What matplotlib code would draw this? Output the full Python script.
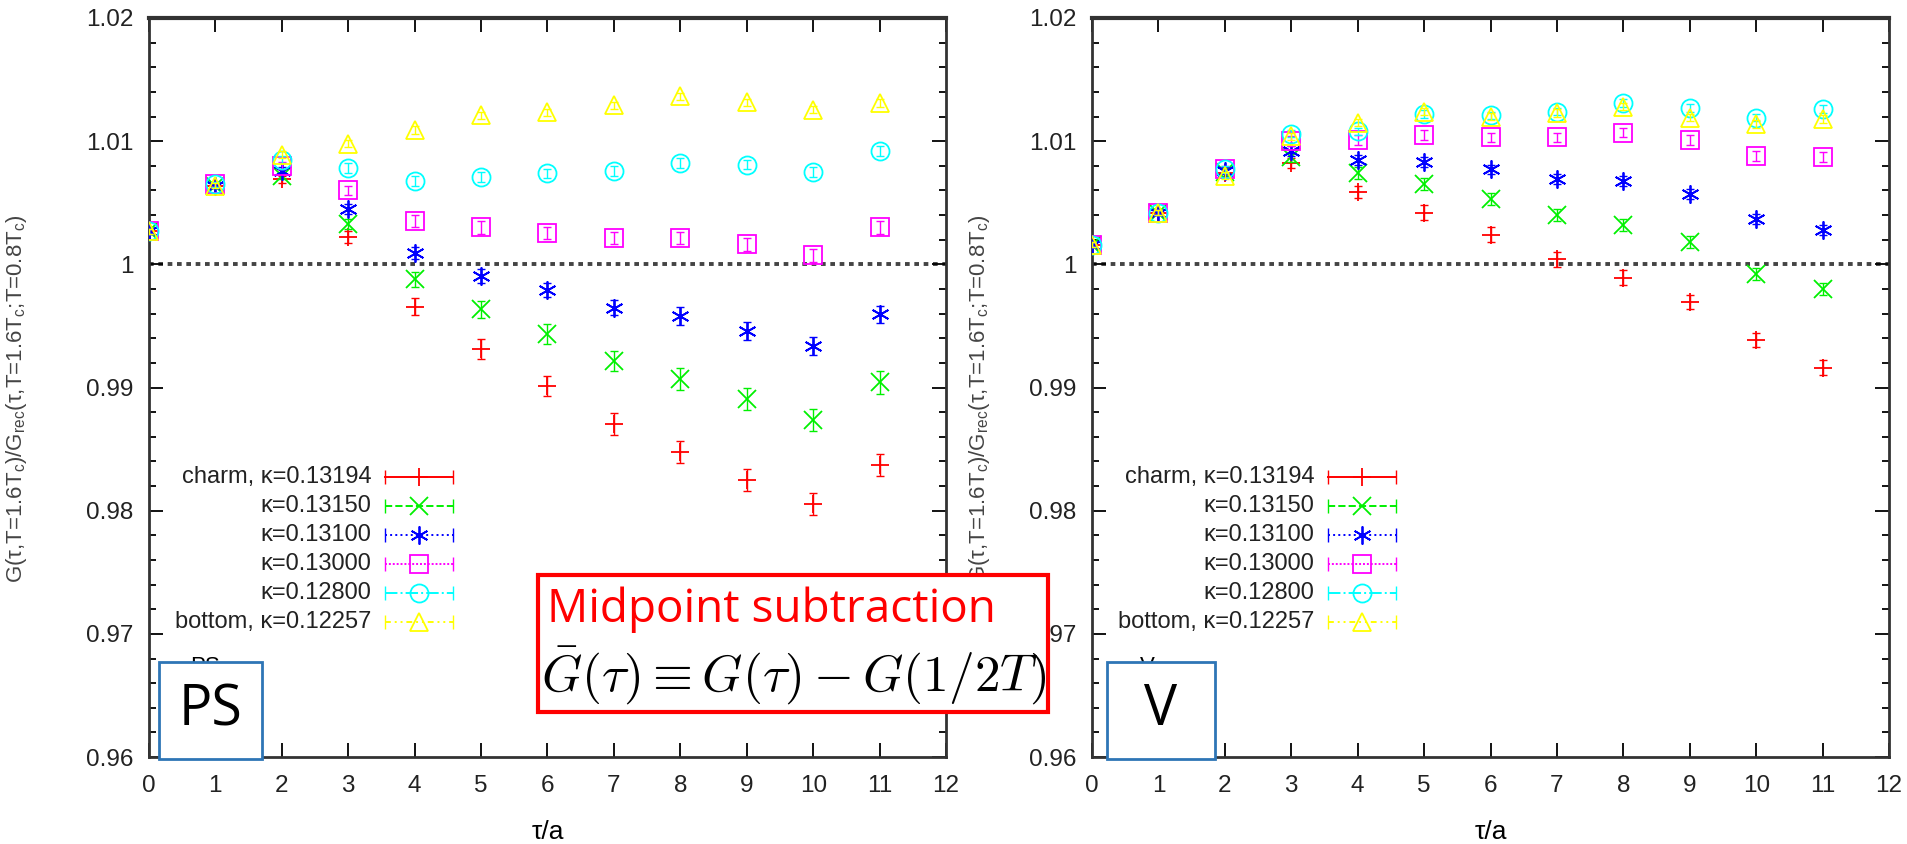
# PS / V correlator ratios, two panels with annotation boxes
import matplotlib
matplotlib.use('Agg')
import matplotlib.pyplot as plt
from matplotlib.lines import Line2D
from matplotlib.patches import Rectangle

tau = list(range(12))
labels = ['charm, κ=0.13194', 'κ=0.13150', 'κ=0.13100',
          'κ=0.13000', 'κ=0.12800', 'bottom, κ=0.12257']
colors = ['#ff0000', '#00f000', '#0000ff', '#ff00ff', '#00ffff', '#ffff00']
markers = ['+', 'x', (6, 2, 0), 's', 'o', '^']
styles = ['-', '--', ':', (0, (1, 1)), '-.', (0, (3, 2, 1, 2, 1, 2))]

# PS channel
ps_vals = [
    [1.0027, 1.0064, 1.0069, 1.0022, 0.99657, 0.9931, 0.99014, 0.98704, 0.98474, 0.98248, 0.98052, 0.98371],
    [1.0027, 1.0064, 1.0072, 1.0033, 0.9988, 0.99635, 0.99432, 0.99216, 0.99068, 0.98905, 0.98737, 0.99041],
    [1.0027, 1.0064, 1.0076, 1.0045, 1.0009, 0.99905, 0.99792, 0.99649, 0.99581, 0.99459, 0.99338, 0.99595],
    [1.0027, 1.0065, 1.0080, 1.0060, 1.0035, 1.0030, 1.00257, 1.00216, 1.00216, 1.00162, 1.00073, 1.0030],
    [1.0027, 1.0065, 1.0085, 1.0078, 1.0068, 1.0071, 1.00738, 1.00757, 1.00824, 1.0081, 1.00751, 1.00919],
    [1.0027, 1.0064, 1.0089, 1.0098, 1.0109, 1.0121, 1.01235, 1.0129, 1.01365, 1.01316, 1.01257, 1.0131],
]
ps_errs = [
    [0.0002, 0.0002, 0.0003, 0.0005, 0.0007, 0.0008, 0.0008, 0.0009, 0.0009, 0.0009, 0.0009, 0.0009],
    [0.0002, 0.0002, 0.0003, 0.0004, 0.0006, 0.0007, 0.0008, 0.0008, 0.0009, 0.0009, 0.0009, 0.0009],
    [0.0002, 0.0002, 0.0003, 0.0004, 0.0005, 0.0006, 0.0006, 0.0006, 0.0007, 0.0007, 0.0007, 0.0007],
    [0.0002, 0.0002, 0.0003, 0.0004, 0.0005, 0.0005, 0.0005, 0.0005, 0.0005, 0.0005, 0.0005, 0.0005],
    [0.0002, 0.0002, 0.0003, 0.0004, 0.0004, 0.0004, 0.0004, 0.0004, 0.0004, 0.0004, 0.0004, 0.0004],
    [0.0002, 0.0002, 0.0003, 0.0003, 0.0003, 0.0003, 0.0003, 0.0003, 0.0003, 0.0003, 0.0003, 0.0003],
]

# V channel
v_vals = [
    [1.0016, 1.0042, 1.0074, 1.0082, 1.0059, 1.0042, 1.0024, 1.0004, 0.9989, 0.99695, 0.99386, 0.99162],
    [1.0016, 1.0042, 1.0075, 1.0087, 1.0074, 1.0065, 1.0053, 1.0040, 1.0032, 1.0018, 0.9992, 0.9980],
    [1.0016, 1.0042, 1.0076, 1.0092, 1.0085, 1.0083, 1.0077, 1.0069, 1.0068, 1.0057, 1.0037, 1.0028],
    [1.0016, 1.0042, 1.0077, 1.0100, 1.0101, 1.0105, 1.0103, 1.0103, 1.0107, 1.0101, 1.0088, 1.0087],
    [1.0016, 1.0042, 1.0077, 1.0106, 1.0108, 1.0122, 1.0121, 1.0124, 1.0131, 1.0127, 1.0119, 1.0126],
    [1.0016, 1.0042, 1.0072, 1.0104, 1.0115, 1.0124, 1.0120, 1.0123, 1.0128, 1.0119, 1.0114, 1.0118],
]
v_errs = [
    [0.0002, 0.0002, 0.0003, 0.0004, 0.0005, 0.0006, 0.0006, 0.0006, 0.0006, 0.0006, 0.0006, 0.0006],
    [0.0002, 0.0002, 0.0003, 0.0004, 0.0005, 0.0005, 0.0005, 0.0005, 0.0005, 0.0005, 0.0005, 0.0005],
    [0.0002, 0.0002, 0.0003, 0.0004, 0.0004, 0.0004, 0.0004, 0.0004, 0.0004, 0.0004, 0.0004, 0.0004],
    [0.0002, 0.0002, 0.0003, 0.0004, 0.0004, 0.0004, 0.0004, 0.0004, 0.0004, 0.0004, 0.0004, 0.0004],
    [0.0002, 0.0002, 0.0003, 0.0003, 0.0003, 0.0003, 0.0003, 0.0003, 0.0003, 0.0003, 0.0003, 0.0003],
    [0.0002, 0.0002, 0.0003, 0.0003, 0.0003, 0.0003, 0.0003, 0.0003, 0.0003, 0.0003, 0.0003, 0.0003],
]

plt.rcParams['font.family'] = ['Liberation Sans', 'DejaVu Sans']
ylab = ('G(τ,T=1.6T$_\\mathregular{c}$)/G$_\\mathregular{rec}$'
        '(τ,T=1.6T$_\\mathregular{c}$;T=0.8T$_\\mathregular{c}$)')

fig = plt.figure(figsize=(19.07, 8.44), dpi=100)


def panel(left, vals, errs, tag, lab_x):
    ax = fig.add_axes([left, 0.103, 0.418, 0.8757])
    ax.axhline(1.0, color='#444444', lw=2.8, ls=(0, (1.2, 1.2)), zorder=1)
    for i in range(6):
        ax.errorbar(tau, vals[i], yerr=errs[i], fmt='none', ecolor=colors[i],
                    elinewidth=1.0, capsize=3, capthick=1.0, zorder=2 + i)
        ax.plot(tau, vals[i], ls='none', marker=markers[i], color=colors[i],
                mfc='none', ms=13, mew=1.3, zorder=2 + i)
    ax.set_xlim(0, 12)
    ax.set_ylim(0.96, 1.02)
    ax.set_xticks(range(13))
    ax.set_yticks([0.96, 0.97, 0.98, 0.99, 1.0, 1.01, 1.02])
    ax.set_yticklabels(['0.96', '0.97', '0.98', '0.99', '1', '1.01', '1.02'])
    ax.set_yticks([0.96 + 0.002 * k for k in range(31)], minor=True)
    ax.tick_params(which='both', direction='in', top=True, right=True,
                   labelsize=17.5, width=1.3, labelcolor='#222222')
    ax.tick_params(which='major', length=10)
    ax.tick_params(which='minor', length=5)
    ax.tick_params(axis='x', pad=13)
    ax.tick_params(axis='y', pad=11)
    for s in ax.spines.values():
        s.set_linewidth(2)
        s.set_color('#333333')
    ax.spines['top'].set_linewidth(3)
    ax.set_xlabel('τ/a', fontsize=19)
    ax.xaxis.set_label_coords(0.5, -0.085)
    ax.set_ylabel(ylab, fontsize=16, color='#444444')
    ax.yaxis.set_label_coords(lab_x, 0.485)
    # hand-made legend, text right-aligned like gnuplot
    for i in range(6):
        yy = 0.379 - 0.0392 * i
        ax.text(0.279, yy, labels[i], transform=ax.transAxes, ha='right',
                va='center', fontsize=17, color='#222222')
        ax.add_line(Line2D([0.296, 0.382], [yy, yy], transform=ax.transAxes,
                           color=colors[i], ls=styles[i], lw=1.4))
        ax.add_line(Line2D([0.296, 0.382], [yy, yy], transform=ax.transAxes,
                           color=colors[i], ls='none', marker='|', ms=10))
        ax.add_line(Line2D([0.339], [yy], transform=ax.transAxes,
                           color=colors[i], ls='none', marker=markers[i],
                           mfc='none', ms=13, mew=1.3))
    # small channel tag of the original plot, mostly hidden by the box
    ax.text(0.07, 0.137, tag, transform=ax.transAxes, ha='center', va='top',
            fontsize=16)
    return ax


ax1 = panel(0.0781, ps_vals, ps_errs, 'PS', -0.15)
ax2 = panel(0.5726, v_vals, v_errs, 'V', -0.126)

# channel boxes
for x0, w, txt in [(0.0834, 0.054, 'PS'), (0.5805, 0.0566, 'V')]:
    fig.patches.append(Rectangle((x0, 0.1007), w, 0.115, transform=fig.transFigure,
                                 facecolor='white', edgecolor='#2e75b6', lw=2, zorder=10))
    fig.text(x0 + w / 2, 0.1007 + 0.057, txt, ha='center', va='center',
             fontsize=40, family='Open Sans', zorder=11)

# midpoint subtraction box
fig.patches.append(Rectangle((0.2821, 0.1564), 0.2674, 0.1623, transform=fig.transFigure,
                             facecolor='white', edgecolor='#ff0000', lw=3, zorder=10))
fig.text(0.2868, 0.277, 'Midpoint subtraction', ha='left', va='center',
         fontsize=33, color='#ff0000', family='Open Sans', zorder=11)
fig.text(0.2837, 0.2, r'$\bar{G}(\tau) \equiv G(\tau) - G(1/2T)$', ha='left',
         va='center', fontsize=37, math_fontfamily='cm', zorder=11)

fig.savefig('out.png', dpi=100, facecolor='white')
